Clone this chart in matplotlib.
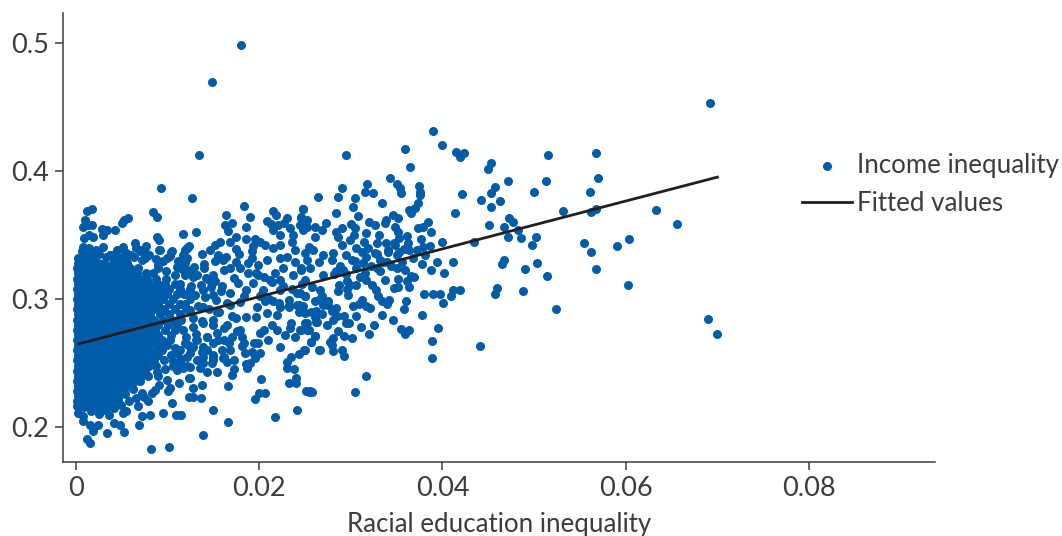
import matplotlib
matplotlib.use('Agg')
import matplotlib.pyplot as plt

# dense block near zero, one row of education values per income level
blob_income = [.328, .324, .320, .316, .312, .308, .304, .300, .296, .292, .288, .284, .280, .276, .272,
               .268, .264, .260, .256, .252, .248, .244, .240, .236, .232, .228, .224, .220, .216]
blob_education = [
    [.0002, .0009, .0016, .0024, .0031, .0040, .0047, .0056],
    [.0001, .0006, .0012, .0019, .0025, .0032, .0038, .0045, .0052, .0059, .0068],
    [.0002, .0008, .0014, .0021, .0027, .0034, .0040, .0047, .0053, .0060, .0067, .0076, .0084],
    [.0001, .0005, .0011, .0018, .0024, .0031, .0037, .0044, .0050, .0057, .0063, .0070, .0078, .0087, .0098],
    [.0002, .0008, .0015, .0021, .0028, .0034, .0041, .0047, .0054, .0060, .0067, .0073, .0080, .0089, .0097, .0108, .0114],
    [.0001, .0006, .0012, .0018, .0025, .0031, .0037, .0044, .0051, .0057, .0064, .0070, .0077, .0085, .0094, .0102, .0113, .0124],
    [.0002, .0008, .0014, .0021, .0027, .0034, .0040, .0047, .0053, .0060, .0067, .0074, .0082, .0091, .0099, .0110, .0118, .0127],
    [.0001, .0005, .0011, .0018, .0024, .0031, .0037, .0044, .0050, .0057, .0063, .0071, .0079, .0086, .0095, .0106, .0124],
    [.0002, .0008, .0015, .0021, .0028, .0034, .0041, .0047, .0054, .0060, .0067, .0074, .0083, .0090, .0102, .0113, .0119],
    [.0001, .0006, .0012, .0018, .0025, .0031, .0037, .0044, .0051, .0057, .0064, .0070, .0078, .0087, .0096, .0108, .0120],
    [.0002, .0008, .0014, .0021, .0027, .0034, .0040, .0047, .0053, .0060, .0066, .0073, .0081, .0092, .0101, .0113],
    [.0001, .0005, .0011, .0018, .0024, .0031, .0037, .0044, .0050, .0057, .0063, .0069, .0077, .0085, .0095, .0105, .0115],
    [.0002, .0009, .0015, .0021, .0028, .0034, .0041, .0047, .0054, .0060, .0067, .0074, .0082, .0090, .0100, .0110],
    [.0001, .0006, .0012, .0018, .0025, .0031, .0037, .0044, .0051, .0057, .0064, .0070, .0078, .0086, .0097, .0108],
    [.0002, .0008, .0014, .0021, .0027, .0034, .0040, .0047, .0053, .0060, .0066, .0073, .0081, .0089, .0104],
    [.0001, .0005, .0011, .0018, .0024, .0031, .0037, .0044, .0050, .0057, .0063, .0070, .0077, .0085, .0094, .0103],
    [.0002, .0009, .0015, .0021, .0028, .0034, .0041, .0047, .0054, .0060, .0067, .0073, .0080, .0090, .0099],
    [.0001, .0006, .0012, .0018, .0025, .0031, .0037, .0044, .0051, .0057, .0064, .0071, .0079, .0087, .0094],
    [.0002, .0008, .0014, .0021, .0027, .0034, .0040, .0047, .0053, .0060, .0066, .0074, .0083, .0090],
    [.0001, .0005, .0011, .0018, .0024, .0031, .0037, .0044, .0050, .0057, .0063, .0070, .0078, .0085],
    [.0002, .0009, .0015, .0021, .0028, .0034, .0041, .0047, .0054, .0060, .0067, .0074, .0080],
    [.0001, .0006, .0012, .0018, .0025, .0031, .0037, .0044, .0051, .0057, .0064, .0070, .0075],
    [.0002, .0008, .0014, .0021, .0027, .0034, .0040, .0047, .0053, .0060, .0066, .0071],
    [.0001, .0005, .0011, .0018, .0024, .0031, .0037, .0044, .0050, .0057, .0064],
    [.0002, .0009, .0015, .0021, .0028, .0034, .0041, .0047, .0054, .0060],
    [.0001, .0006, .0012, .0018, .0025, .0031, .0037, .0044, .0052],
    [.0002, .0008, .0014, .0021, .0027, .0034, .0040, .0046],
    [.0001, .0005, .0011, .0018, .0024, .0031, .0040],
    [.0002, .0009, .0015, .0022, .0030],
]

# rim of the block and the low corner
rim_education = [.0017, .0012, .0010, .0008, .0013, .0017, .0009, .0014, .0019, .0028, .0034, .0029, .0043, .0057,
                 .0052, .0050, .0084, .0088, .0093, .0088, .0091, .0064, .0051, .0076, .0117, .0127, .0070, .0091,
                 .0105, .0037, .0002, .0059, .0121, .0008, .0011, .0019, .0014, .0082, .0101, .0012, .0015, .0034,
                 .0019, .0024, .0015, .0008, .0041, .0048, .0052, .0069, .0072, .0068, .0081, .0095, .0109, .0114,
                 .0105, .0051, .0055, .0036, .0030, .0001, .0079, .0072, .0086, .0103, .0112, .0110, .0123, .0106,
                 .0139, .0099, .0090, .0121, .0110, .0124, .0139, .0150, .0092, .0104, .0099, .0121, .0117, .0112,
                 .0090, .0121, .0128, .0110, .0075, .0059, .0052, .0070, .0037]
rim_income = [.3703, .3687, .3617, .3562, .3578, .3578, .3476, .3500, .3484, .3547, .3539, .3500, .3539, .3633,
              .3617, .3594, .3679, .3640, .3867, .3484, .3461, .3437, .3406, .3414, .3508, .3789, .3375, .3383,
              .3375, .3344, .3320, .3344, .3398, .3406, .3359, .3367, .3336, .1828, .1841, .1906, .1875, .1953,
              .1966, .2018, .2018, .2044, .2031, .2018, .1958, .2018, .2083, .2161, .2096, .2109, .2096, .2091,
              .2187, .2109, .2122, .2096, .2135, .2161, .2200, .2265, .2291, .2304, .2343, .2447, .2382, .2512,
              .2499, .2369, .2395, .2473, .2577, .2577, .2629, .2525, .3383, .3370, .3318, .3396, .3344, .3292,
              .3266, .3227, .3175, .3253, .3318, .3344, .3331, .3383, .3344]

# body of the cloud above the line, 0.012 to 0.025
upper_education = [.0183, .0164, .0190, .0170, .0163, .0166, .0186, .0131, .0215, .0218, .0208, .0213, .0221, .0230,
                   .0227, .0215, .0248, .0246, .0245, .0252, .0234, .0237, .0223, .0175, .0186, .0168, .0157, .0152,
                   .0195, .0201, .0193, .0206, .0215, .0223, .0236, .0239, .0123, .0119, .0146, .0137, .0155, .0160,
                   .0175, .0121, .0140, .0175, .0192, .0188, .0208, .0199, .0223, .0230, .0239, .0252, .0246, .0168,
                   .0179, .0161, .0150, .0188, .0199, .0217, .0226, .0237, .0223, .0250, .0172, .0145, .0128, .0119,
                   .0159, .0177, .0193, .0204, .0212, .0186, .0139, .0126, .0150, .0168, .0183, .0201, .0223, .0241,
                   .0250, .0232, .0215, .0243]
upper_income = [.3727, .3657, .3644, .3597, .3579, .3535, .3561, .3527, .3691, .3657, .3613, .3584, .3579, .3631,
                .3592, .3540, .3701, .3631, .3579, .3566, .3553, .3501, .3501, .3488, .3470, .3449, .3449, .3423,
                .3467, .3449, .3415, .3423, .3397, .3423, .3449, .3379, .3415, .3384, .3379, .3353, .3345, .3306,
                .3389, .3319, .3241, .3293, .3319, .3280, .3306, .3267, .3319, .3332, .3293, .3306, .3241, .3241,
                .3241, .3228, .3189, .3202, .3189, .3202, .3241, .3189, .3150, .3150, .3163, .3150, .3176, .3189,
                .3098, .3124, .3124, .3072, .3150, .3072, .3072, .3098, .3033, .3046, .3020, .3020, .3072, .3046,
                .3020, .2955, .2981, .2955]

# body of the cloud below the line, 0.011 to 0.028
lower_education = [.0198, .0206, .0232, .0241, .0243, .0250, .0261, .0263, .0252, .0246, .0254, .0235, .0234, .0228,
                   .0239, .0261, .0257, .0266, .0277, .0223, .0250, .0243, .0235, .0230, .0230, .0238, .0240, .0240,
                   .0233, .0254, .0258, .0241, .0217, .0202, .0206, .0200, .0195, .0166, .0170, .0137, .0128, .0123,
                   .0128, .0136, .0150, .0166, .0139, .0115, .0187, .0201, .0195, .0190, .0184, .0192, .0194, .0199,
                   .0210, .0201, .0205, .0214, .0219, .0181, .0179, .0183, .0172, .0154, .0143, .0135, .0148, .0150,
                   .0161, .0165, .0168, .0159, .0124, .0117, .0124, .0132, .0139, .0121, .0114, .0128, .0143, .0150,
                   .0161, .0170, .0154, .0143, .0132, .0119, .0117, .0128, .0139, .0150, .0165, .0175, .0186, .0197,
                   .0208, .0219, .0223, .0124, .0139, .0154, .0168, .0179]
lower_income = [.2940, .2984, .2940, .2953, .2901, .2893, .2862, .2823, .2815, .2758, .2758, .2810, .2771, .2719,
                .2706, .2711, .2667, .2602, .2667, .2628, .2602, .2571, .2550, .2511, .2464, .2451, .2381, .2342,
                .2342, .2277, .2277, .2134, .2077, .2373, .2269, .2269, .2222, .2321, .2404, .2329, .2308, .2238,
                .2238, .2225, .2134, .2043, .1939, .2092, .2464, .2581, .2537, .2498, .2581, .2589, .2659, .2654,
                .2680, .2732, .2758, .2797, .2758, .2706, .2758, .2654, .2451, .2433, .2433, .2459, .2498, .2550,
                .2550, .2511, .2602, .2602, .2381, .2459, .2472, .2524, .2550, .2550, .2498, .2628, .2602, .2654,
                .2680, .2706, .2732, .2706, .2680, .2654, .2758, .2784, .2810, .2836, .2797, .2849, .2862, .2862,
                .2888, .2875, .2940, .2914, .2940, .2901, .2953, .2979]

# middle of the cloud, 0.024 to 0.044
middle_education = [.0390, .0400, .0415, .0419, .0423, .0359, .0295, .0365, .0343, .0318, .0350, .0354, .0290, .0374,
                    .0375, .0315, .0324, .0355, .0375, .0264, .0286, .0305, .0334, .0373, .0302, .0370, .0363, .0366,
                    .0284, .0308, .0248, .0246, .0252, .0346, .0352, .0338, .0337, .0384, .0320, .0326, .0273, .0300,
                    .0304, .0261, .0268, .0290, .0284, .0248, .0348, .0352, .0379, .0373, .0387, .0317, .0331, .0261,
                    .0286, .0303, .0361, .0353, .0299, .0290, .0377, .0329, .0338, .0348, .0362, .0314, .0379, .0386,
                    .0400, .0434, .0254, .0306, .0319, .0372, .0353, .0341, .0363, .0281, .0270, .0259, .0250, .0295,
                    .0301, .0312, .0326, .0381, .0350, .0265, .0279, .0288, .0332, .0313, .0339, .0394, .0412, .0388,
                    .0402, .0350, .0359, .0328, .0306, .0295, .0284, .0270, .0255, .0246, .0315, .0332, .0337, .0369,
                    .0352, .0361, .0363, .0347, .0317, .0323, .0306, .0299, .0297, .0286, .0266, .0268, .0250, .0261,
                    .0270, .0244, .0248, .0327, .0330, .0312, .0317, .0334, .0342, .0360, .0358, .0302, .0380, .0390,
                    .0397, .0401, .0409, .0411, .0419, .0378, .0334, .0346, .0306, .0293, .0285, .0281, .0295, .0261,
                    .0262, .0250, .0252, .0244, .0355, .0363, .0359, .0320, .0395, .0389, .0389, .0441, .0301, .0292,
                    .0281, .0279, .0281, .0290, .0293, .0261, .0257, .0265, .0249, .0316, .0304, .0255, .0251]
middle_income = [.4315, .4206, .4151, .4107, .4143, .4172, .4125, .4031, .3946, .3899, .3899, .3865, .3865, .3886,
                 .3839, .3839, .3826, .3826, .3813, .3800, .3800, .3792, .3753, .3748, .3722, .3709, .3696, .3675,
                 .3670, .3652, .3701, .3644, .3618, .3657, .3636, .3618, .3592, .3600, .3605, .3576, .3592, .3587,
                 .3553, .3566, .3540, .3558, .3527, .3540, .3566, .3527, .3566, .3553, .3527, .3514, .3501, .3488,
                 .3488, .3501, .3496, .3475, .3462, .3423, .3470, .3436, .3436, .3423, .3436, .3449, .3410, .3415,
                 .3449, .3449, .3410, .3397, .3397, .3384, .3371, .3384, .3384, .3358, .3345, .3384, .3358, .3345,
                 .3306, .3371, .3358, .3345, .3345, .3293, .3306, .3254, .3306, .3280, .3293, .3288, .3288, .3223,
                 .3202, .3246, .3223, .3241, .3241, .3197, .3215, .3189, .3241, .3228, .3207, .3215, .3150, .3173,
                 .3158, .3137, .3090, .3085, .3150, .3111, .3111, .3111, .3033, .3059, .3072, .3020, .3020, .2981,
                 .2950, .3046, .2942, .3072, .3020, .2994, .2942, .2981, .2994, .2986, .2924, .2942, .3036, .3036,
                 .3041, .2968, .3020, .3072, .3072, .2877, .2877, .2838, .2864, .2864, .2864, .2833, .2812, .2864,
                 .2820, .2812, .2760, .2760, .2768, .2755, .2726, .2724, .2773, .2669, .2536, .2630, .2695, .2708,
                 .2695, .2643, .2591, .2604, .2552, .2708, .2664, .2604, .2599, .2399, .2271, .2279, .2279]

# sparse points to the right and the two high outliers
sparse_education = [.0180, .0148, .0134, .0421, .0414, .0453, .0450, .0471, .0457, .0453, .0442, .0463, .0453, .0500,
                    .0451, .0473, .0477, .0467, .0471, .0482, .0486, .0498, .0502, .0467, .0465, .0490, .0503, .0459,
                    .0457, .0488, .0692, .0515, .0568, .0513, .0570, .0561, .0532, .0562, .0568, .0633, .0656, .0555,
                    .0562, .0591, .0604, .0514, .0568, .0602, .0524, .0690, .0700]
sparse_income = [.4984, .4695, .4125, .3821, .3670, .4060, .4013, .3920, .3878, .3826, .3771, .3769, .3722, .3839,
                 .3582, .3631, .3605, .3566, .3488, .3540, .3478, .3423, .3483, .3306, .3272, .3236, .3280, .3085,
                 .3041, .3059, .4528, .4128, .4143, .3925, .3943, .3836, .3688, .3683, .3701, .3693, .3587, .3436,
                 .3371, .3415, .3472, .3176, .3233, .3108, .2921, .2846, .2729]

# points filling the gaps between the block and the cloud
fill_education = [.0132, .0142, .0152, .0136, .0147, .0158, .0130, .0141, .0153, .0165, .0133, .0145, .0156, .0170,
                  .0128, .0138, .0150, .0162, .0176, .0131, .0143, .0155, .0167, .0181, .0126, .0137, .0149, .0160,
                  .0172, .0186, .0129, .0140, .0152, .0164, .0178, .0192, .0196, .0205, .0214, .0226, .0236, .0247,
                  .0202, .0211, .0222, .0232, .0244, .0256, .0268, .0279, .0275, .0266, .0258, .0282, .0291, .0304,
                  .0316, .0329, .0341, .0335, .0322, .0310, .0296, .0287, .0344, .0356, .0368, .0358, .0347, .0296,
                  .0309, .0321, .0275, .0284, .0262, .0274, .0286, .0298, .0311, .0325, .0339, .0351, .0366, .0378]
fill_income = [.3190, .3165, .3140, .3110, .3090, .3060, .3035, .3015, .2990, .2965, .2945, .2920, .2895, .2870,
               .2850, .2825, .2800, .2775, .2750, .2725, .2700, .2680, .2655, .2630, .2610, .2585, .2565, .2540,
               .2520, .2495, .3250, .3275, .3300, .3325, .3350, .3375, .3200, .3170, .3130, .3100, .3075, .3115,
               .3030, .3000, .2965, .2990, .2920, .2900, .2880, .2905, .2950, .3000, .3090, .3195, .3230, .3300,
               .3325, .3350, .3370, .3290, .3255, .3175, .3140, .3110, .3260, .3290, .3320, .3390, .3440, .3075,
               .2960, .2930, .2985, .2930, .2910, .2800, .2750, .2810, .2780, .2800, .2960, .3095, .3180, .3270]

# rough top and bottom edges of the block
edge_education = [.0004, .0010, .0018, .0025, .0033, .0041, .0048, .0056, .0063, .0072, .0080, .0087, .0095, .0103,
                  .0111, .0119, .0006, .0014, .0022, .0030, .0045, .0054, .0066, .0078, .0089, .0098, .0108, .0116,
                  .0126, .0002, .0008, .0016, .0025, .0033, .0041, .0049, .0058, .0066, .0074, .0083, .0091, .0100,
                  .0062, .0070, .0079, .0088, .0097, .0106, .0115, .0054, .0038, .0046, .0096, .0104, .0113, .0122,
                  .0131, .0087, .0108, .0120]
edge_income = [.3310, .3340, .3325, .3350, .3325, .3345, .3320, .3355, .3330, .3305, .3345, .3315, .3295, .3335,
               .3300, .3280, .3375, .3395, .3385, .3410, .3380, .3370, .3395, .3350, .3240, .3215, .3190, .3235,
               .3220, .2110, .2090, .2125, .2105, .2140, .2150, .2175, .2205, .2225, .2235, .2265, .2330, .2280,
               .2300, .2360, .2395, .2430, .2450, .2480, .2530, .2260, .2180, .2220, .2520, .2560, .2600, .2640,
               .2680, .2480, .2620, .2700]

fitted_education = [0.0003, 0.0700]
fitted_income = [0.2650, 0.3952]

x_ticks = [0, 0.02, 0.04, 0.06, 0.08]
x_labels = ['0', '0.02', '0.04', '0.06', '0.08']
y_ticks = [0.2, 0.3, 0.4, 0.5]
y_labels = ['0.2', '0.3', '0.4', '0.5']

blue = '#005ca9'
dark = '#231f20'
grey = '#3c3c3c'

plt.rcParams['font.family'] = ['Lato', 'DejaVu Sans']

fig = plt.figure(figsize=(10.62, 5.36), dpi=100)
ax = fig.add_axes([63 / 1062, 1 - 462 / 536, (935 - 63) / 1062, (462 - 13) / 536])

education = []
income = []
for level, row in zip(blob_income, blob_education):
    education += row
    income += [level] * len(row)
education += rim_education + upper_education + lower_education + middle_education + sparse_education
income += rim_income + upper_income + lower_income + middle_income + sparse_income
education += fill_education + edge_education
income += fill_income + edge_income

ax.scatter(education, income, s=42, color=blue, linewidths=0, label='Income inequality', zorder=2)
ax.plot(fitted_education, fitted_income, color=dark, lw=2, label='Fitted values', zorder=3)

ax.set_xlim(-0.00142, 0.09376)
ax.set_ylim(0.1727, 0.5234)
ax.set_xticks(x_ticks, x_labels)
ax.set_yticks(y_ticks, y_labels)
ax.tick_params(labelsize=19.5, colors=grey, length=6, width=1.1, pad=4)
ax.spines['top'].set_visible(False)
ax.spines['right'].set_visible(False)
ax.spines['left'].set_linewidth(1.1)
ax.spines['bottom'].set_linewidth(1.1)
ax.spines['left'].set_color(grey)
ax.spines['bottom'].set_color(grey)
ax.set_xlabel('Racial education inequality', fontsize=18.6, color=grey, labelpad=8)

fig.legend(loc='upper left', bbox_to_anchor=(802 / 1062, 1 - 153 / 536), frameon=False, fontsize=18.6,
           labelcolor=grey, handlelength=1.92, handletextpad=0.2, labelspacing=0.52, borderpad=0, borderaxespad=0)

fig.savefig('out.png', dpi=100)
